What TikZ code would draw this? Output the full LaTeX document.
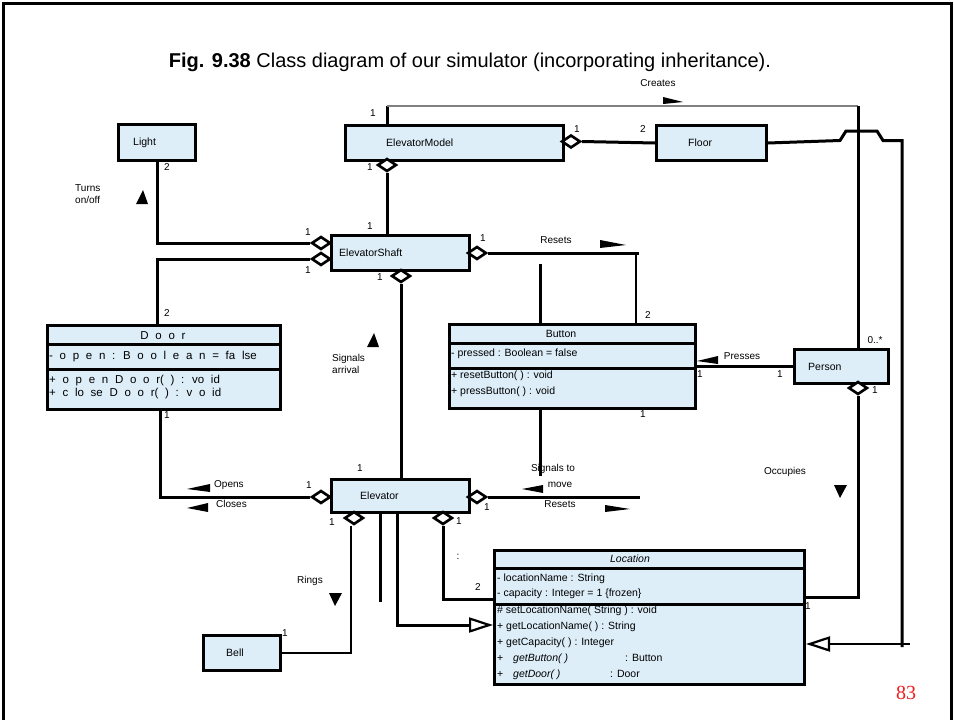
\documentclass[tikz,border=0pt]{standalone}
\usepackage{fontspec}
\setmainfont{Liberation Sans}
\newfontfamily\serifnum{Liberation Serif}
\newfontfamily\doorfont[WordSpace=2.1]{Liberation Sans}
\usetikzlibrary{shapes.geometric,arrows.meta,calc}
\definecolor{clsfill}{RGB}{221,238,249}
\definecolor{pgred}{RGB}{240,30,30}
\begin{document}
\begin{tikzpicture}[x=1pt,y=-1pt,
 cls/.style={draw, line width=3pt, fill=clsfill, inner sep=0pt, anchor=north west},
 sepline/.style={line width=3pt},
 assoc/.style={line width=3pt},
 thinline/.style={line width=1.3pt},
 grayline/.style={line width=1.6pt, draw=gray},
 dia/.style={draw, diamond, fill=white, line width=2.6pt, minimum width=19pt, minimum height=13pt, inner sep=0pt},
 lbl/.style={font=\fontsize{10}{12}\selectfont, inner sep=0pt},
 cname/.style={font=\fontsize{10.5}{12}\selectfont, inner sep=0pt, anchor=west},
 member/.style={font=\fontsize{10.5}{12}\selectfont, inner sep=0pt, anchor=base west},
 doormember/.style={font=\doorfont\fontsize{11.5}{13}\selectfont, inner sep=0pt, anchor=base west},
 flag/.style={fill=black},
 inh/.style={-{Triangle[open, length=24pt, width=15pt, line width=2.2pt]}},
]
\useasboundingbox (0,0) rectangle (954,720);
% frame
\draw[line width=3pt] (3,720) -- (3,3) -- (951,3) -- (951,720);

% title
\node[font=\fontsize{20}{24}\selectfont, inner sep=0pt] (title) at (470,62)
  {\textbf{Fig. 9.38} Class diagram of our simulator (incorporating inheritance).};

% ---------- classes ----------
\node[cls, minimum width=77pt, minimum height=36pt] (light) at (117,123) {};
\node[cname] at ($(light.west)+(16,0)$) {Light};
\node[cls, minimum width=218pt, minimum height=35pt] (em) at (344,124) {};
\node[cname] at ($(em.west)+(42,0)$) {ElevatorModel};
\node[cls, minimum width=110pt, minimum height=35pt] (floor) at (655,124) {};
\node[cname] at ($(floor.west)+(33,0)$) {Floor};
\node[cls, minimum width=138pt, minimum height=35pt] (shaft) at (330,234) {};
\node[cname] at ($(shaft.west)+(9,0)$) {ElevatorShaft};
\node[cls, minimum width=94pt, minimum height=34pt] (person) at (793,348) {};
\node[cname] at ($(person.west)+(15,0)$) {Person};
\node[cls, minimum width=138pt, minimum height=33pt] (elev) at (330,478) {};
\node[cname] at ($(elev.west)+(30,0)$) {Elevator};
\node[cls, minimum width=77pt, minimum height=35pt] (bell) at (202,634) {};
\node[cname] at ($(bell.west)+(24,0)$) {Bell};

% Door
\node[cls, minimum width=233pt, minimum height=84pt] (door) at (46,324) {};
\draw[sepline] (door.west |- 0,344) -- (door.east |- 0,344);
\draw[sepline] (door.west |- 0,369) -- (door.east |- 0,369);
\node[doormember, anchor=base] at (163,339) {D o o r};
\node[doormember] at (49,359) {- o p e n : B o o l e a n = fa lse};
\node[doormember] at (49,383) {+ o p e n D o o r( ) : vo id};
\node[doormember] at (49,396) {+ c lo se D o o r( ) : v o id};

% Button
\node[cls, minimum width=246pt, minimum height=84pt] (button) at (448,323) {};
\draw[sepline] (button.west |- 0,343) -- (button.east |- 0,343);
\draw[sepline] (button.west |- 0,368) -- (button.east |- 0,368);
\node[member, anchor=base] at (561,337) {Button};
\node[member] at (451,356) {- pressed : Boolean = false};
\node[member] at (451,378) {+ resetButton( ) : void};
\node[member] at (451,394) {+ pressButton( ) : void};

% Location
\node[cls, minimum width=310pt, minimum height=134pt] (loc) at (493,549) {};
\draw[sepline] (loc.west |- 0,568) -- (loc.east |- 0,568);
\draw[sepline] (loc.west |- 0,604) -- (loc.east |- 0,604);
\node[member, anchor=base] at (630,562) {\textit{Location}};
\node[member] at (497,581) {- locationName : String};
\node[member] at (497,596) {- capacity : Integer = 1 \{frozen\}};
\node[member] at (497,613) {\# setLocationName( String ) : void};
\node[member] at (497,629) {+ getLocationName( ) : String};
\node[member] at (497,645) {+ getCapacity( ) : Integer};
\node[member] at (497,661) {+};
\node[member] at (513,661) {\textit{getButton( )}};
\node[member] at (625,661) {: Button};
\node[member] at (497,677) {+};
\node[member] at (513,677) {\textit{getDoor( )}};
\node[member] at (610,677) {: Door};

% ---------- diamonds ----------
\node[dia] (dEMF) at (571,141.5) {};
\node[dia] (dEMB) at (387,165) {};
\node[dia] (dSL1) at (321,243) {};
\node[dia] (dSL2) at (321,259) {};
\node[dia] (dSR) at (477,253) {};
\node[dia] (dSB) at (401,276) {};
\node[dia] (dEL) at (321,497) {};
\node[dia] (dER) at (477,497) {};
\node[dia] (dEBL) at (354,518) {};
\node[dia] (dEBR) at (443,518) {};
\node[dia] (dP) at (858,388) {};

% ---------- bend coordinates ----------
\coordinate (cr1) at (387,106);
\coordinate (cr2) at (858,106);
\coordinate (rs1) at (639,253);
\coordinate (rs2) at (636,253);
\coordinate (sm) at (640,497);
\coordinate (h1) at (840,140.5);
\coordinate (h2) at (846,131);
\coordinate (h3) at (877,131);
\coordinate (h4) at (883,140.5);
\coordinate (h5) at (902,140.5);
\coordinate (h6) at (902,647);
\coordinate (h7) at (910,644);

% ---------- connectors ----------
% Creates
\draw[assoc] (em.north -| cr1) -- (cr1);
\draw[grayline] (cr1) -- (cr2);
\draw[assoc] (cr2) -- (person.north -| cr2);
% ElevatorModel - Floor
\draw[assoc] (dEMF.east) -- (floor.west);
% ElevatorModel - ElevatorShaft
\draw[assoc] (dEMB.south) -- (shaft.north -| dEMB);
% Shaft - Light, Shaft - Door
\draw[assoc] (dSL1.west) -| (light.south);
\draw[assoc] (dSL2.west) -| (light.south |- door.north);
% Shaft - Button (Resets)
\draw[assoc] (dSR.east) -- (rs1);
\draw[thinline] (rs2) -- (button.north -| rs2);
\draw[assoc] (button.north -| 540,0) -- ++(0,-59);
\draw[assoc] (button.south -| 540,0) -- ++(0,66);
% Shaft - Elevator
\draw[assoc] (dSB.south) -- (elev.north -| dSB);
% Door - Elevator
\draw[assoc] (door.south -| 160,0) |- (dEL.west);
% Elevator - Button
\draw[assoc] (dER.east) -- (sm);
% Elevator - Bell
\draw[thinline] (dEBL.south -| 351,0) |- (bell.east);
% loose line
\draw[assoc] (elev.south -| 380,0) -- ++(0,88);
% Elevator inherits Location
\draw[assoc, inh] (elev.south -| 397,0) |- (loc.west |- 0,625);
% Elevator - Location
\draw[assoc] (dEBR.south) |- (loc.west |- 0,599);
% Location - Person
\draw[assoc] (loc.east |- 0,597) -| (dP.south);
% Button - Person
\draw[assoc] (button.east) -- (person.west);
% Floor inherits Location
\draw[assoc] (floor.east) -- (h1) -- (h2) -- (h3) -- (h4) -- (h5) -- (h6);
\draw[thinline, inh] (h7) -- (loc.east |- h7);

% ---------- direction flags ----------
\fill[flag] (663,97) -- (683,102) -- (663,104) -- cycle;
\fill[flag] (600,240) -- (626,245) -- (600,248) -- cycle;
\fill[flag] (136,204) -- (148,204) -- (143,190) -- cycle;
\fill[flag] (367,347) -- (379,347) -- (374,333) -- cycle;
\fill[flag] (187,489) -- (210,484) -- (210,492) -- cycle;
\fill[flag] (187,508) -- (208,503) -- (208,512) -- cycle;
\fill[flag] (522,489) -- (543,485) -- (543,493) -- cycle;
\fill[flag] (605,505) -- (630,509) -- (605,512) -- cycle;
\fill[flag] (697,361) -- (718,356) -- (718,364) -- cycle;
\fill[flag] (329,593) -- (342,593) -- (335,606) -- cycle;
\fill[flag] (834,485) -- (847,485) -- (840,498) -- cycle;

% ---------- association labels ----------
\node[lbl] at (658,83) {Creates};
\node[lbl] at (556,240) {Resets};
\node[lbl, align=left, anchor=west] at (75,194) {Turns\\on/off};
\node[lbl, align=left, anchor=west] at (332,364) {Signals\\arrival};
\node[lbl, anchor=west] at (214,485) {Opens};
\node[lbl, anchor=west] at (216,504) {Closes};
\node[lbl] at (553,469) {Signals to};
\node[lbl] at (560,485) {move};
\node[lbl] at (560,504) {Resets};
\node[lbl] at (742,356) {Presses};
\node[lbl] at (785,472) {Occupies};
\node[lbl] at (310,581) {Rings};

% ---------- multiplicities ----------
\node[lbl] at (373,113) {1};
\node[lbl] at (875,340) {0..*};
\node[lbl] at (370,167) {1};
\node[lbl] at (577,129) {1};
\node[lbl] at (643,129) {2};
\node[lbl] at (167,167) {2};
\node[lbl] at (308,232) {1};
\node[lbl] at (370,226) {1};
\node[lbl] at (308,270) {1};
\node[lbl] at (380,277) {1};
\node[lbl] at (483,238) {1};
\node[lbl] at (648,315) {2};
\node[lbl] at (167,313) {2};
\node[lbl] at (167,415) {1};
\node[lbl] at (309,485) {1};
\node[lbl] at (360,468) {1};
\node[lbl] at (487,507) {1};
\node[lbl] at (332,522) {1};
\node[lbl] at (459,521) {1};
\node[lbl] at (458,557) {:};
\node[lbl] at (285,633) {1};
\node[lbl] at (478,587) {2};
\node[lbl] at (808,606) {1};
\node[lbl] at (700,374) {1};
\node[lbl] at (780,374) {1};
\node[lbl] at (875,390) {1};
\node[lbl] at (643,414) {1};

% page number
\node[font=\serifnum\fontsize{20}{24}\selectfont, text=pgred, inner sep=0pt] at (906,693) {83};
\end{tikzpicture}
\end{document}
